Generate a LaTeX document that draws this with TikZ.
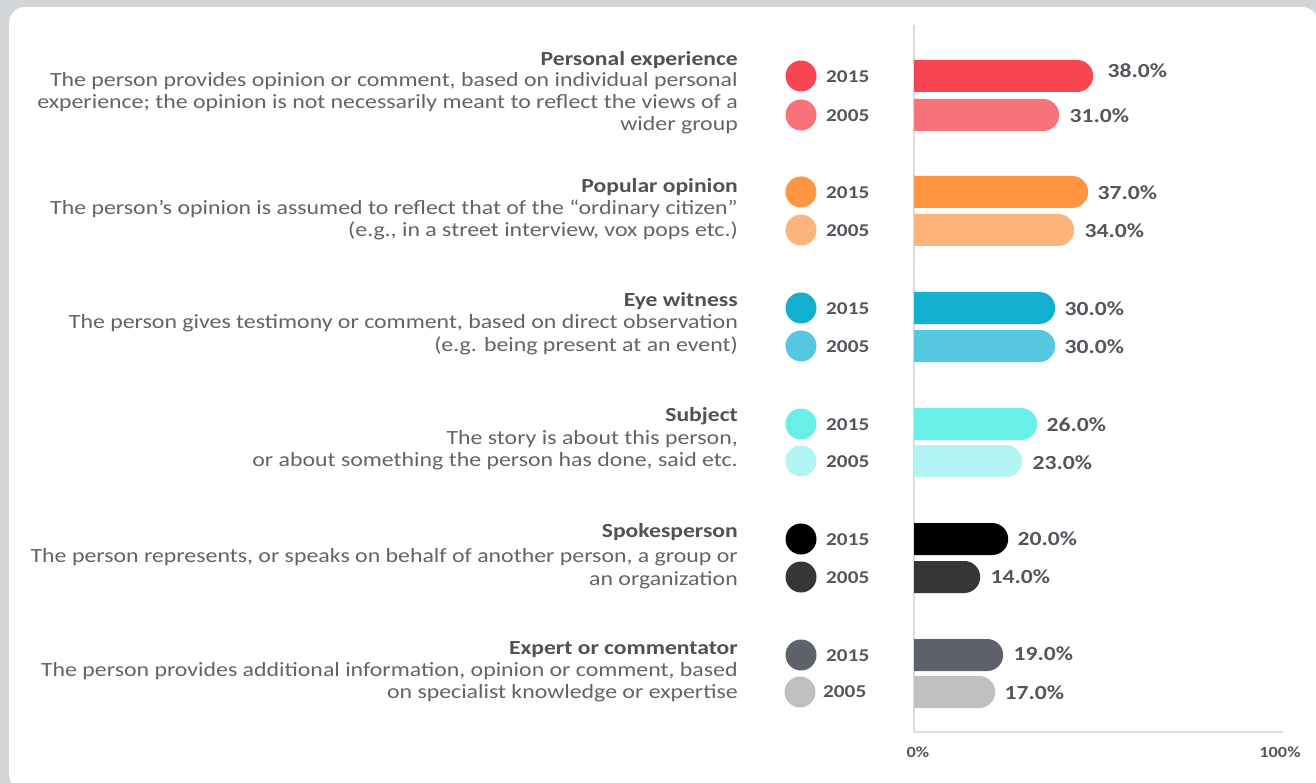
\documentclass[tikz,border=0pt]{standalone}
\usepackage{fontspec}
\setmainfont{Carlito}[FakeStretch=1.18]
\usetikzlibrary{shapes.misc}
\definecolor{bgc}{HTML}{D3D6D9}
\definecolor{ttl}{HTML}{4F5256}
\definecolor{dsc}{HTML}{626468}
\definecolor{lbl}{HTML}{53565C}
\definecolor{axc}{HTML}{DCDCDC}
\definecolor{ca}{HTML}{F74552}\definecolor{cb}{HTML}{F87379}
\definecolor{cc}{HTML}{FF9540}\definecolor{cd}{HTML}{FDB47B}
\definecolor{ce}{HTML}{12AFCF}\definecolor{cf}{HTML}{55C7DE}
\definecolor{cg}{HTML}{6AEEE8}\definecolor{ch}{HTML}{B3F5F4}
\definecolor{ci}{HTML}{000000}\definecolor{cj}{HTML}{363636}
\definecolor{ck}{HTML}{5F626A}\definecolor{cl}{HTML}{BFC0C2}
\tikzset{
  ttlnode/.style={anchor=base east, inner sep=0, text=ttl, font=\fontsize{20}{22}\selectfont\bfseries},
  dscnode/.style={anchor=base east, inner sep=0, text=dsc, font=\fontsize{20.2}{22}\selectfont},
  dot/.style={circle, inner sep=0, minimum size=31pt},
  yr/.style={anchor=west, inner sep=0, text=lbl, font=\fontsize{18}{22}\selectfont\bfseries},
  bar/.style={rounded rectangle, rounded rectangle left arc=none, anchor=west, inner sep=0, minimum height=32pt},
  pct/.style={anchor=west, inner sep=0, text=lbl, font=\fontsize{20}{22}\selectfont\bfseries},
  axl/.style={inner sep=0, text=lbl, font=\fontsize{15.5}{17}\selectfont\bfseries},
}
\begin{document}
\begin{tikzpicture}[x=1pt,y=-1pt]
\useasboundingbox (0,0) rectangle (1316,783);
\fill[bgc] (0,0) rectangle (1316,783);
\fill[white,rounded corners=16pt] (9,7) rectangle (1318,790);
% axes
\coordinate (axtop) at (914,25);
\coordinate (axo) at (914,732);
\coordinate (axr) at (1283,732);
\draw[axc, line width=1.5pt] (axtop) -- (axo) -- (axr);
\node[axl] (x0) at (918,752) {0\%};
\node[axl] (x100) at (1280,752) {100\%};
% group 1
\node[ttlnode] (t1) at (738,66) {Personal experience};
\node[dscnode] (d1a) at (738,87) {The person provides opinion or comment, based on individual personal};
\node[dscnode] (d1b) at (738,109) {experience; the opinion is not necessarily meant to reflect the views of a};
\node[dscnode] (d1c) at (738,131) {wider group};
% group 2
\node[ttlnode] (t2) at (738,193) {Popular opinion};
\node[dscnode] (d2a) at (738,215) {The person’s opinion is assumed to reflect that of the “ordinary citizen”};
\node[dscnode] (d2b) at (738,237) {(e.g., in a street interview, vox pops etc.)};
% group 3
\node[ttlnode] (t3) at (738,306) {Eye witness};
\node[dscnode] (d3a) at (738,329) {The person gives testimony or comment, based on direct observation};
\node[dscnode] (d3b) at (738,351) {(e.g. being present at an event)};
% group 4
\node[ttlnode] (t4) at (738,421) {Subject};
\node[dscnode] (d4a) at (738,444) {The story is about this person,};
\node[dscnode] (d4b) at (738,466) {or about something the person has done, said etc.};
% group 5
\node[ttlnode] (t5) at (738,537) {Spokesperson};
\node[dscnode] (d5a) at (738,562) {The person represents, or speaks on behalf of another person, a group or};
\node[dscnode] (d5b) at (738,585) {an organization};
% group 6
\node[ttlnode] (t6) at (738,654) {Expert or commentator};
\node[dscnode] (d6a) at (738,676) {The person provides additional information, opinion or comment, based};
\node[dscnode] (d6b) at (738,698) {on specialist knowledge or expertise};
% legend dots and years
\node[dot, fill=ca] (p1) at (801,76) {};  \node[yr] (y1) at (826,77) {2015};
\node[dot, fill=cb] (p2) at (801,115) {}; \node[yr] (y2) at (826,116) {2005};
\node[dot, fill=cc] (p3) at (801,192) {}; \node[yr] (y3) at (826,193) {2015};
\node[dot, fill=cd] (p4) at (801,230) {}; \node[yr] (y4) at (826,231) {2005};
\node[dot, fill=ce] (p5) at (801,308) {}; \node[yr] (y5) at (826,309) {2015};
\node[dot, fill=cf] (p6) at (801,346) {}; \node[yr] (y6) at (826,347) {2005};
\node[dot, fill=cg] (p7) at (801,424) {}; \node[yr] (y7) at (826,425) {2015};
\node[dot, fill=ch] (p8) at (801,461) {}; \node[yr] (y8) at (826,462) {2005};
\node[dot, fill=ci] (p9) at (801,539) {}; \node[yr] (y9) at (826,540) {2015};
\node[dot, fill=cj] (p10) at (801,577) {}; \node[yr] (y10) at (826,578) {2005};
\node[dot, fill=ck] (p11) at (801,655) {}; \node[yr] (y11) at (826,656) {2015};
\node[dot, fill=cl] (p12) at (800,692) {}; \node[yr] (y12) at (823,692) {2005};
% bars
\node[bar, fill=ca, minimum width=179pt] (b1) at (914,76) {};
\node[bar, fill=cb, minimum width=145pt] (b2) at (914,115) {};
\node[bar, fill=cc, minimum width=174pt] (b3) at (914,192) {};
\node[bar, fill=cd, minimum width=160pt] (b4) at (914,230) {};
\node[bar, fill=ce, minimum width=141pt] (b5) at (914,308) {};
\node[bar, fill=cf, minimum width=141pt] (b6) at (914,346) {};
\node[bar, fill=cg, minimum width=123pt] (b7) at (914,424) {};
\node[bar, fill=ch, minimum width=108pt] (b8) at (914,461) {};
\node[bar, fill=ci, minimum width=94pt] (b9) at (914,539) {};
\node[bar, fill=cj, minimum width=66pt] (b10) at (914,577) {};
\node[bar, fill=ck, minimum width=89pt] (b11) at (914,655) {};
\node[bar, fill=cl, minimum width=81pt] (b12) at (914,692) {};
% values
\node[pct] (v1) at ([xshift=14pt,yshift=5pt]b1.east) {38.0\%};
\node[pct] (v2) at ([xshift=10pt,yshift=-1pt]b2.east) {31.0\%};
\node[pct] (v3) at ([xshift=9pt,yshift=-1pt]b3.east) {37.0\%};
\node[pct] (v4) at ([xshift=10pt,yshift=-1pt]b4.east) {34.0\%};
\node[pct] (v5) at ([xshift=9pt,yshift=-1pt]b5.east) {30.0\%};
\node[pct] (v6) at ([xshift=9pt,yshift=-1pt]b6.east) {30.0\%};
\node[pct] (v7) at ([xshift=9pt,yshift=-1pt]b7.east) {26.0\%};
\node[pct] (v8) at ([xshift=10pt,yshift=-2pt]b8.east) {23.0\%};
\node[pct] (v9) at ([xshift=9pt,yshift=0pt]b9.east) {20.0\%};
\node[pct] (v10) at ([xshift=10pt,yshift=0pt]b10.east) {14.0\%};
\node[pct] (v11) at ([xshift=10pt,yshift=1pt]b11.east) {19.0\%};
\node[pct] (v12) at ([xshift=9pt,yshift=-1pt]b12.east) {17.0\%};
\end{tikzpicture}
\end{document}
